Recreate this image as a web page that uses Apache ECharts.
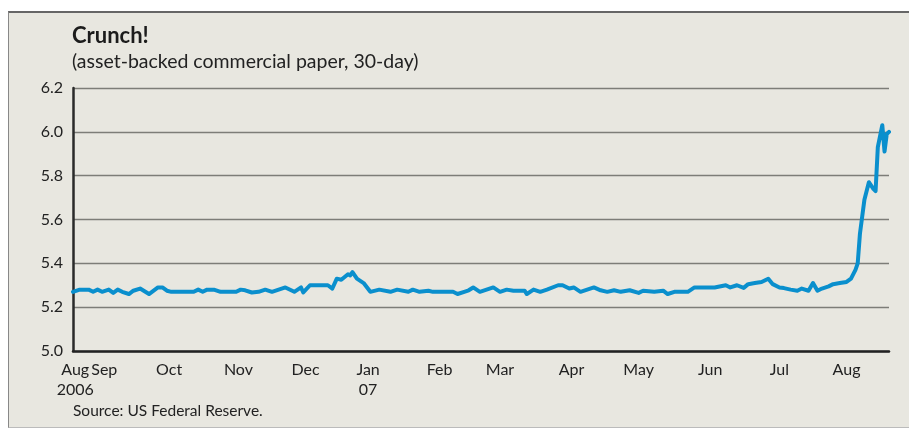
<!DOCTYPE html>
<html>
<head>
<meta charset="utf-8">
<script src="https://cdn.jsdelivr.net/npm/echarts@6/dist/echarts.min.js"></script>
<style>
  html, body { margin: 0; padding: 0; background: #fff; }
  .frame {
    position: absolute; left: 8px; top: 11px; width: 901px; height: 414px;
    background: #e8e7e0;
    border-top: 2px solid #666;
    border-left: 1px solid #888;
    border-bottom: 1px solid #bbb;
  }
  #chart { position: absolute; left: 0; top: 0; width: 909px; height: 428px; }
</style>
</head>
<body>
<div class="frame"></div>
<div id="chart"></div>
<script>
// 30-day asset-backed commercial paper rate, %
var dates = [
  '2006-08-24','2006-08-27','2006-08-31','2006-09-02','2006-09-04','2006-09-06','2006-09-09','2006-09-11',
  '2006-09-13','2006-09-15','2006-09-18','2006-09-20','2006-09-23','2006-09-27','2006-10-01','2006-10-03',
  '2006-10-05','2006-10-07','2006-10-12','2006-10-17','2006-10-19','2006-10-21','2006-10-23','2006-10-26',
  '2006-10-29','2006-11-05','2006-11-07','2006-11-09','2006-11-12','2006-11-15','2006-11-18','2006-11-21',
  '2006-11-24','2006-11-27','2006-12-01','2006-12-04','2006-12-05','2006-12-08','2006-12-11','2006-12-16',
  '2006-12-18','2006-12-20','2006-12-22','2006-12-25','2006-12-26','2006-12-27','2006-12-29','2007-01-01',
  '2007-01-04','2007-01-08','2007-01-13','2007-01-16','2007-01-21','2007-01-23','2007-01-26','2007-01-30',
  '2007-02-01','2007-02-10','2007-02-12','2007-02-15','2007-02-17','2007-02-19','2007-02-22','2007-02-28',
  '2007-03-03','2007-03-06','2007-03-09','2007-03-14','2007-03-15','2007-03-18','2007-03-21','2007-03-24',
  '2007-03-29','2007-03-31','2007-04-03','2007-04-05','2007-04-08','2007-04-11','2007-04-14','2007-04-17',
  '2007-04-20','2007-04-23','2007-04-26','2007-04-30','2007-05-04','2007-05-06','2007-05-11','2007-05-15',
  '2007-05-17','2007-05-20','2007-05-26','2007-05-29','2007-06-01','2007-06-04','2007-06-07','2007-06-12',
  '2007-06-14','2007-06-17','2007-06-20','2007-06-22','2007-06-25','2007-06-28','2007-07-01','2007-07-03',
  '2007-07-06','2007-07-08','2007-07-11','2007-07-14','2007-07-16','2007-07-19','2007-07-21','2007-07-23',
  '2007-07-25','2007-07-28','2007-07-30','2007-08-02','2007-08-05','2007-08-07','2007-08-09','2007-08-10',
  '2007-08-11','2007-08-13','2007-08-15','2007-08-17','2007-08-18','2007-08-19','2007-08-21','2007-08-22',
  '2007-08-23','2007-08-24'
];
var rates = [
  5.27, 5.28, 5.28, 5.27, 5.28, 5.27, 5.28, 5.265,
  5.28, 5.27, 5.26, 5.275, 5.285, 5.26, 5.29, 5.29,
  5.275, 5.27, 5.27, 5.27, 5.28, 5.27, 5.28, 5.28,
  5.27, 5.27, 5.28, 5.277, 5.267, 5.27, 5.28, 5.27,
  5.28, 5.29, 5.27, 5.29, 5.267, 5.30, 5.30, 5.30,
  5.285, 5.33, 5.325, 5.35, 5.345, 5.36, 5.33, 5.31,
  5.27, 5.28, 5.27, 5.28, 5.27, 5.28, 5.27, 5.275,
  5.27, 5.27, 5.26, 5.27, 5.277, 5.29, 5.27, 5.29,
  5.27, 5.28, 5.275, 5.275, 5.26, 5.28, 5.27, 5.28,
  5.30, 5.30, 5.285, 5.29, 5.27, 5.28, 5.29, 5.277,
  5.27, 5.277, 5.27, 5.277, 5.265, 5.275, 5.27, 5.275,
  5.26, 5.27, 5.27, 5.29, 5.29, 5.29, 5.29, 5.30,
  5.29, 5.30, 5.288, 5.305, 5.31, 5.315, 5.33, 5.305,
  5.29, 5.287, 5.28, 5.275, 5.285, 5.275, 5.31, 5.275,
  5.285, 5.295, 5.305, 5.31, 5.315, 5.33, 5.37, 5.40,
  5.535, 5.69, 5.77, 5.74, 5.73, 5.93, 6.03, 5.91,
  5.99, 6.00
];
// month labels and where they sit (first one goes on its own axis)
var labelDates = ['2006-08-25','2006-09-07','2006-10-06','2006-11-06','2006-12-06','2007-01-03','2007-02-04',
  '2007-03-03','2007-04-04','2007-05-04','2007-06-05','2007-07-06','2007-08-05'];
var labelText = ['Aug\n2006','Sep','Oct','Nov','Dec','Jan\n07','Feb','Mar','Apr','May','Jun','Jul','Aug'];
var yTicks = [5.0, 5.2, 5.4, 5.6, 5.8, 6.0, 6.2];

var FONT = 'Lato';
function ts(d) { return Date.parse(d + 'T00:00:00Z'); }
var labelTimes = labelDates.map(ts);
var xMin = ts(dates[0]), xMax = ts(dates[dates.length - 1]);

function monthAxis(values, show) {
  return {
    type: 'value',
    min: xMin, max: xMax,
    position: 'bottom',
    axisLine: { show: show, onZero: false, lineStyle: { color: '#222', width: 2.5 } },
    axisTick: { show: false },
    splitLine: { show: false },
    axisLabel: {
      customValues: values,
      formatter: function (v) {
        var i = labelTimes.indexOf(v);
        return i >= 0 ? labelText[i] : '';
      },
      color: '#222', fontFamily: FONT, fontSize: 16, lineHeight: 20, margin: 9,
      verticalAlign: 'top',
      showMinLabel: true,
      showMaxLabel: true,
      hideOverlap: false
    }
  };
}

var chart = echarts.init(document.getElementById('chart'));
chart.setOption({
  backgroundColor: 'transparent',
  animation: false,
  textStyle: { fontFamily: FONT },
  title: [
    {
      text: 'Crunch!',
      subtext: '(asset-backed commercial paper, 30-day)',
      left: 67, top: 20, itemGap: 5,
      textStyle: { fontFamily: FONT, fontSize: 22, fontWeight: 'bold', color: '#1c1c1c' },
      subtextStyle: { fontFamily: FONT, fontSize: 19.5, color: '#222' }
    },
    {
      text: 'Source: US Federal Reserve.',
      left: 68, top: 398,
      textStyle: { fontFamily: FONT, fontSize: 15.5, fontWeight: 'normal', color: '#222' }
    }
  ],
  grid: { left: 73, right: 20, top: 88, bottom: 77 },
  xAxis: [
    monthAxis(labelTimes.slice(1), true),
    monthAxis(labelTimes.slice(0, 1), false)
  ],
  yAxis: {
    type: 'value',
    min: 5.0, max: 6.2, interval: 0.2,
    axisLine: { show: true, lineStyle: { color: '#2a2a2a', width: 2.5 } },
    axisTick: { show: false },
    splitLine: { lineStyle: { color: '#7d7d78', width: 1.3 } },
    axisLabel: {
      customValues: yTicks,
      formatter: function (v) { return v.toFixed(1); },
      color: '#222', fontFamily: FONT, fontSize: 16, margin: 10
    }
  },
  series: [{
    type: 'line',
    xAxisIndex: 0,
    data: dates.map(function (d, i) { return [ts(d), rates[i]]; }),
    showSymbol: false,
    lineStyle: { color: '#0a8fcd', width: 4, join: 'round', cap: 'round' },
    z: 3
  }]
});
</script>
</body>
</html>
